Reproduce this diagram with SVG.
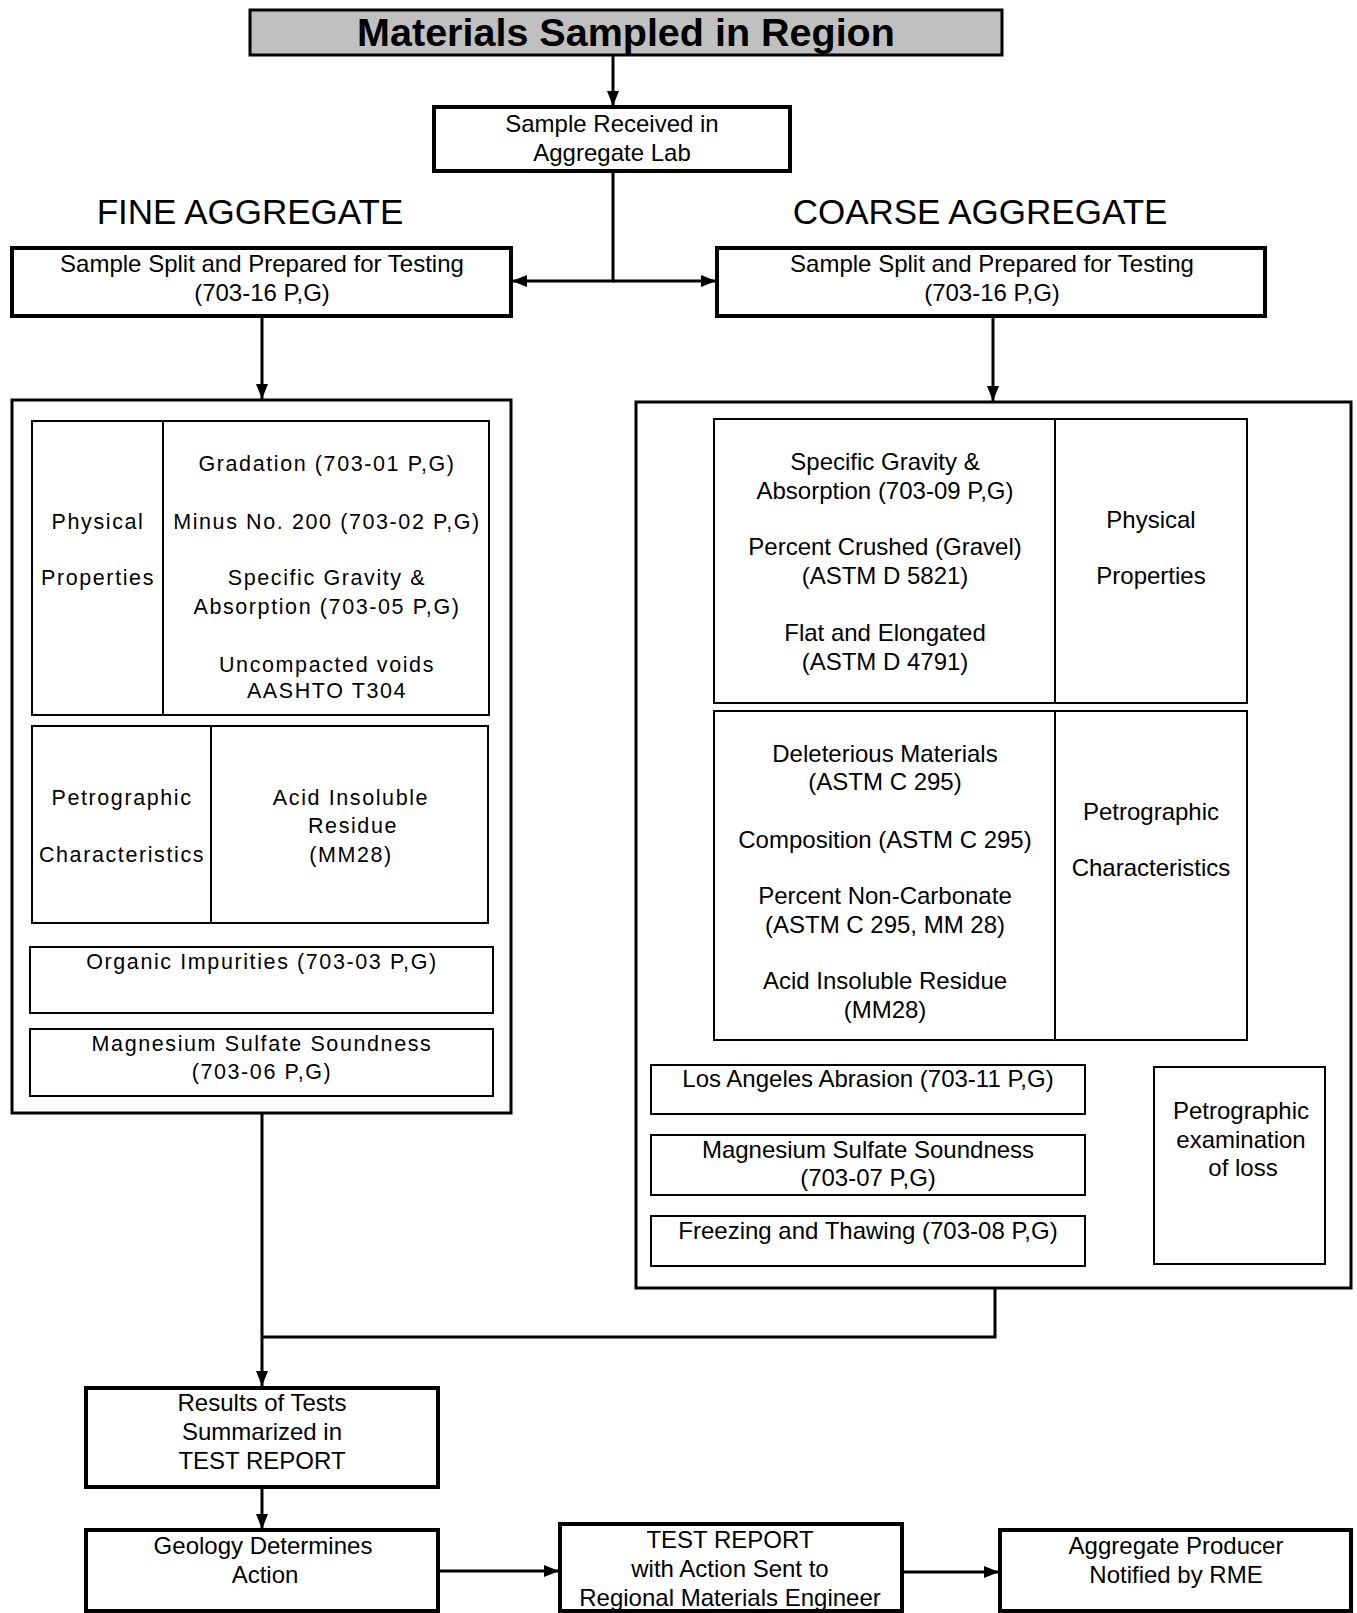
<svg xmlns="http://www.w3.org/2000/svg" width="1357" height="1613" viewBox="0 0 1357 1613">
<defs>
<style>
.bx{fill:#fff;stroke:#000;stroke-width:4}
.bx3{fill:#fff;stroke:#000;stroke-width:3}
.in{fill:#fff;stroke:#000;stroke-width:2}
.dv{stroke:#000;stroke-width:2}
.cn{fill:none;stroke:#000;stroke-width:3}
.cn2{fill:none;stroke:#000;stroke-width:2.5}
text{font-family:"Liberation Sans",Arial,sans-serif;fill:#000;text-anchor:middle}
.t24{font-size:24px}
.t20{font-size:21.5px;letter-spacing:1.6px}
.hd{font-size:35px}
.title{font-size:39.5px;font-weight:bold}
</style>
<marker id="ar" viewBox="0 0 15 12" refX="15" refY="6" markerWidth="15" markerHeight="12" markerUnits="userSpaceOnUse" orient="auto">
<path d="M0,0 L15,6 L0,12 Z" fill="#000"/>
</marker>
</defs>
<rect width="1357" height="1613" fill="#fff"/>

<g id="connectors">
<path class="cn" d="M613,55 V106" marker-end="url(#ar)"/>
<path class="cn" d="M613,171 V281 H512" marker-end="url(#ar)"/>
<path class="cn" d="M613,281 H716" marker-end="url(#ar)"/>
<path class="cn" d="M262,316 V399" marker-end="url(#ar)"/>
<path class="cn" d="M993,316 V401" marker-end="url(#ar)"/>
<path class="cn2" d="M1085,1089 H1118 V1242 H1085"/>
<path class="cn2" d="M1118,1167 H1153" marker-end="url(#ar)"/>
<path class="cn" d="M262,1113 V1386" marker-end="url(#ar)"/>
<path class="cn" d="M995,1288 V1337 H262"/>
<path class="cn" d="M262,1487 V1529" marker-end="url(#ar)"/>
<path class="cn" d="M438,1571 H559" marker-end="url(#ar)"/>
<path class="cn" d="M902,1572 H999" marker-end="url(#ar)"/>
</g>

<g id="title">
<rect x="250" y="10" width="752" height="45" fill="#c0c0c0" stroke="#000" stroke-width="3"/>
<text class="title" x="626" y="46">Materials Sampled in Region</text>
</g>

<g id="received">
<rect class="bx" x="434" y="107" width="356" height="64"/>
<text class="t24" x="612" y="132">Sample Received in</text>
<text class="t24" x="612" y="161">Aggregate Lab</text>
</g>

<g id="fine-heading"><text class="hd" x="250" y="224">FINE AGGREGATE</text></g>
<g id="coarse-heading"><text class="hd" x="980" y="224">COARSE AGGREGATE</text></g>

<g id="fine-split">
<rect class="bx" x="12" y="248" width="499" height="68"/>
<text class="t24" x="262" y="272">Sample Split and Prepared for Testing</text>
<text class="t24" x="262" y="301">(703-16 P,G)</text>
</g>

<g id="coarse-split">
<rect class="bx" x="717" y="248" width="548" height="68"/>
<text class="t24" x="992" y="272">Sample Split and Prepared for Testing</text>
<text class="t24" x="992" y="301">(703-16 P,G)</text>
</g>

<g id="fine-tests">
<rect class="bx3" x="12" y="400" width="499" height="713"/>
<g id="fine-physical">
<rect class="in" x="32" y="421" width="457" height="294"/>
<line class="dv" x1="163" y1="421" x2="163" y2="715"/>
<text class="t20" x="98" y="529">Physical</text>
<text class="t20" x="98" y="585">Properties</text>
<text class="t20" x="327" y="471">Gradation (703-01 P,G)</text>
<text class="t20" x="327" y="529">Minus No. 200 (703-02 P,G)</text>
<text class="t20" x="327" y="585">Specific Gravity &amp;</text>
<text class="t20" x="327" y="614">Absorption (703-05 P,G)</text>
<text class="t20" x="327" y="672">Uncompacted voids</text>
<text class="t20" x="327" y="698">AASHTO T304</text>
</g>
<g id="fine-petro">
<rect class="in" x="32" y="726" width="456" height="197"/>
<line class="dv" x1="211" y1="726" x2="211" y2="923"/>
<text class="t20" x="122" y="805">Petrographic</text>
<text class="t20" x="122" y="862">Characteristics</text>
<text class="t20" x="351" y="805">Acid Insoluble</text>
<text class="t20" x="353" y="833">Residue</text>
<text class="t20" x="351" y="862">(MM28)</text>
</g>
<g id="fine-organic">
<rect class="in" x="30" y="947" width="463" height="66"/>
<text class="t20" x="262" y="969">Organic Impurities (703-03 P,G)</text>
</g>
<g id="fine-mg">
<rect class="in" x="30" y="1029" width="463" height="67"/>
<text class="t20" x="262" y="1051">Magnesium Sulfate Soundness</text>
<text class="t20" x="262" y="1079">(703-06 P,G)</text>
</g>
</g>

<g id="coarse-tests">
<rect class="bx3" x="636" y="402" width="715" height="886"/>
<g id="coarse-physical">
<rect class="in" x="714" y="419" width="533" height="284"/>
<line class="dv" x1="1055" y1="419" x2="1055" y2="703"/>
<text class="t24" x="885" y="470">Specific Gravity &amp;</text>
<text class="t24" x="885" y="499">Absorption (703-09 P,G)</text>
<text class="t24" x="885" y="555">Percent Crushed (Gravel)</text>
<text class="t24" x="885" y="584">(ASTM D 5821)</text>
<text class="t24" x="885" y="641">Flat and Elongated</text>
<text class="t24" x="885" y="670">(ASTM D 4791)</text>
<text class="t24" x="1151" y="528">Physical</text>
<text class="t24" x="1151" y="584">Properties</text>
</g>
<g id="coarse-petro">
<rect class="in" x="714" y="711" width="533" height="329"/>
<line class="dv" x1="1055" y1="711" x2="1055" y2="1040"/>
<text class="t24" x="885" y="762">Deleterious Materials</text>
<text class="t24" x="885" y="790">(ASTM C 295)</text>
<text class="t24" x="885" y="848">Composition (ASTM C 295)</text>
<text class="t24" x="885" y="904">Percent Non-Carbonate</text>
<text class="t24" x="885" y="933">(ASTM C 295, MM 28)</text>
<text class="t24" x="885" y="989">Acid Insoluble Residue</text>
<text class="t24" x="885" y="1018">(MM28)</text>
<text class="t24" x="1151" y="820">Petrographic</text>
<text class="t24" x="1151" y="876">Characteristics</text>
</g>
<g id="coarse-la">
<rect class="in" x="651" y="1065" width="434" height="49"/>
<text class="t24" x="868" y="1087">Los Angeles Abrasion (703-11 P,G)</text>
</g>
<g id="coarse-mg">
<rect class="in" x="651" y="1135" width="434" height="60"/>
<text class="t24" x="868" y="1158">Magnesium Sulfate Soundness</text>
<text class="t24" x="868" y="1186">(703-07 P,G)</text>
</g>
<g id="coarse-freeze">
<rect class="in" x="651" y="1216" width="434" height="50"/>
<text class="t24" x="868" y="1239">Freezing and Thawing (703-08 P,G)</text>
</g>
<g id="petro-exam">
<rect class="in" x="1154" y="1067" width="171" height="197"/>
<text class="t24" x="1241" y="1119">Petrographic</text>
<text class="t24" x="1241" y="1148">examination</text>
<text class="t24" x="1243" y="1176">of loss</text>
</g>
</g>

<g id="results">
<rect class="bx" x="86" y="1388" width="352" height="99"/>
<text class="t24" x="262" y="1411">Results of Tests</text>
<text class="t24" x="262" y="1440">Summarized in</text>
<text class="t24" x="262" y="1469">TEST REPORT</text>
</g>

<g id="geology">
<rect class="bx" x="86" y="1530" width="352" height="81"/>
<text class="t24" x="263" y="1554">Geology Determines</text>
<text class="t24" x="265" y="1583">Action</text>
</g>

<g id="report-sent">
<rect class="bx" x="560" y="1524" width="342" height="87"/>
<text class="t24" x="730" y="1548">TEST REPORT</text>
<text class="t24" x="730" y="1577">with Action Sent to</text>
<text class="t24" x="730" y="1606">Regional Materials Engineer</text>
</g>

<g id="producer">
<rect class="bx" x="1000" y="1530" width="351" height="81"/>
<text class="t24" x="1176" y="1554">Aggregate Producer</text>
<text class="t24" x="1176" y="1583">Notified by RME</text>
</g>
</svg>
